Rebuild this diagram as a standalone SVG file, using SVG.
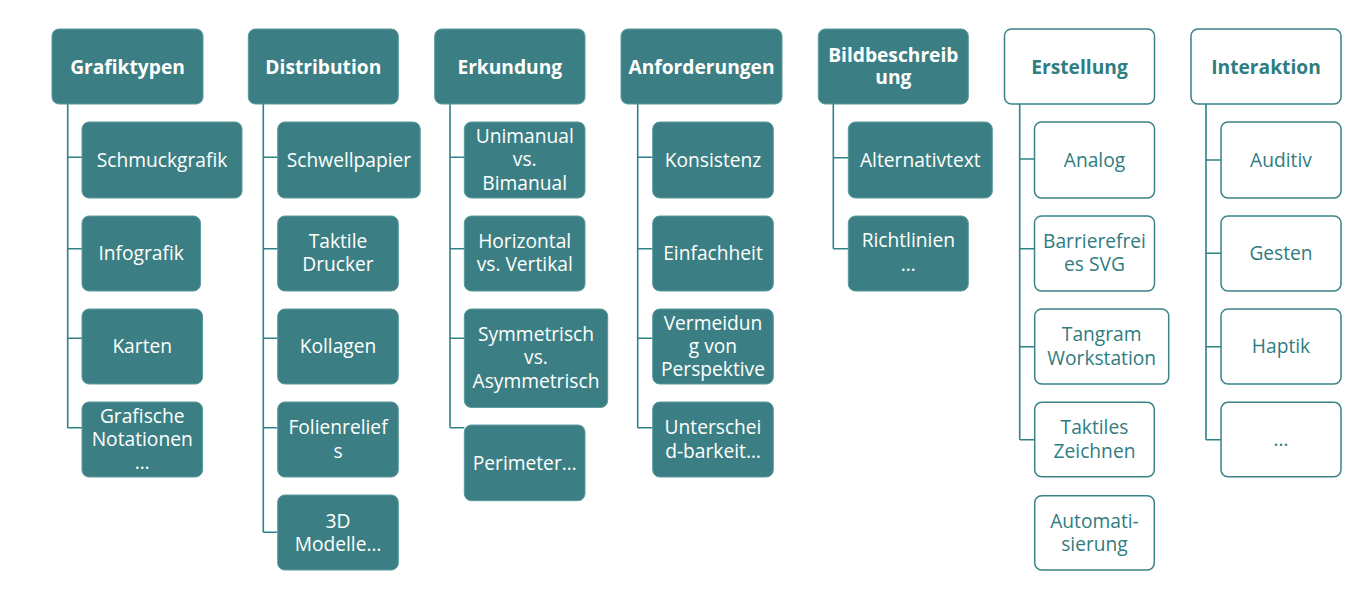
<svg xmlns="http://www.w3.org/2000/svg" width="1358" height="602" viewBox="0 0 1358 602">
<style>
.f{fill:#3b7f84;stroke:#5b9a9e;stroke-width:1}
.o{fill:#ffffff;stroke:#3b8388;stroke-width:1.5}
.hf{font-family:"Open Sans","Liberation Sans",sans-serif;font-weight:bold;font-size:19.2px;fill:#ffffff;text-anchor:middle}
.ho{font-family:"Open Sans","Liberation Sans",sans-serif;font-weight:bold;font-size:19.2px;fill:#2f7c81;text-anchor:middle}
.cf{font-family:"Open Sans","Liberation Sans",sans-serif;font-size:19.2px;fill:#ffffff;text-anchor:middle}
.co{font-family:"Open Sans","Liberation Sans",sans-serif;font-size:19.2px;fill:#2f7c81;text-anchor:middle}
.ln{fill:none;stroke:#2e8186;stroke-width:1.6}
</style>
<g id="connectors">
<path class="ln" d="M67.7,104 V428 M67.7,157.3 H82 M67.7,248.7 H82 M67.7,338.3 H82 M67.7,427.7 H82"/>
<path class="ln" d="M263.3,104 V532.3 M263.3,157.3 H277.7 M263.3,248.7 H277.7 M263.3,338.3 H277.7 M263.3,427.7 H277.7 M263.3,532.3 H277.7"/>
<path class="ln" d="M450,104 V427.7 M450,157.3 H464.3 M450,248.7 H464.3 M450,338.3 H464.3 M450,427.7 H464.3"/>
<path class="ln" d="M637.7,104 V427.7 M637.7,157.3 H652.7 M637.7,248.7 H652.7 M637.7,338.3 H652.7 M637.7,427.7 H652.7"/>
<path class="ln" d="M833.3,104 V248.7 M833.3,157.7 H848.3 M833.3,248.7 H848.3"/>
<path class="ln" d="M1019.7,104 V439.7 M1019.7,159 H1034.5 M1019.7,248.7 H1034.5 M1019.7,346.7 H1034.5 M1019.7,439.7 H1034.5"/>
<path class="ln" d="M1206,104 V439.7 M1206,160 H1221 M1206,253.3 H1221 M1206,346.7 H1221 M1206,439.7 H1221"/>
</g>
<g id="grafiktypen"><rect class="f" x="52" y="29" width="151" height="75" rx="7"/><text class="hf" x="127.5" y="73.8">Grafiktypen</text></g>
<g id="schmuckgrafik"><rect class="f" x="82" y="122" width="160" height="76" rx="7"/><text class="cf" x="162" y="166.8">Schmuckgrafik</text></g>
<g id="infografik"><rect class="f" x="82" y="216" width="118.5" height="75" rx="7"/><text class="cf" x="141.2" y="259.8">Infografik</text></g>
<g id="karten"><rect class="f" x="82" y="309" width="120.5" height="75" rx="7"/><text class="cf" x="142.2" y="352.8">Karten</text></g>
<g id="grafische"><rect class="f" x="82" y="402" width="120.5" height="75" rx="7"/><text class="cf" x="142.2" y="422.7">Grafische<tspan x="142.2" dy="23.3">Notationen</tspan><tspan x="142.2" dy="23.3">…</tspan></text></g>

<g id="distribution"><rect class="f" x="248.3" y="29" width="150" height="75" rx="7"/><text class="hf" x="323.3" y="73.8">Distribution</text></g>
<g id="schwellpapier"><rect class="f" x="277.7" y="122" width="142.5" height="76" rx="7"/><text class="cf" x="349" y="166.8">Schwellpapier</text></g>
<g id="taktile-drucker"><rect class="f" x="277.7" y="216" width="120.6" height="75" rx="7"/><text class="cf" x="338" y="247.9">Taktile<tspan x="338" dy="23.3">Drucker</tspan></text></g>
<g id="kollagen"><rect class="f" x="277.7" y="309" width="120.6" height="75" rx="7"/><text class="cf" x="338" y="352.8">Kollagen</text></g>
<g id="folienreliefs"><rect class="f" x="277.7" y="402" width="120.6" height="75" rx="7"/><text class="cf" x="338" y="434.2">Folienrelief<tspan x="338" dy="23.3">s</tspan></text></g>
<g id="3d-modelle"><rect class="f" x="277.7" y="495" width="120.6" height="75" rx="7"/><text class="cf" x="338" y="527.5">3D<tspan x="338" dy="23.3">Modelle…</tspan></text></g>

<g id="erkundung"><rect class="f" x="434.7" y="29" width="150.3" height="75" rx="7"/><text class="hf" x="509.8" y="73.8">Erkundung</text></g>
<g id="unimanual"><rect class="f" x="464.3" y="122" width="120.7" height="76" rx="7"/><text class="cf" x="524.7" y="142.5">Unimanual<tspan x="524.7" dy="23.5">vs.</tspan><tspan x="524.7" dy="23.5">Bimanual</tspan></text></g>
<g id="horizontal"><rect class="f" x="464.3" y="216" width="120.7" height="75" rx="7"/><text class="cf" x="524.7" y="247.9">Horizontal<tspan x="524.7" dy="23.3">vs. Vertikal</tspan></text></g>
<g id="symmetrisch"><rect class="f" x="464.3" y="309" width="143.4" height="98.5" rx="7"/><text class="cf" x="536" y="340.9">Symmetrisch<tspan x="536" dy="23.5">vs.</tspan><tspan x="536" dy="23.5">Asymmetrisch</tspan></text></g>
<g id="perimeter"><rect class="f" x="464.3" y="425" width="120.7" height="75.7" rx="7"/><text class="cf" x="524.7" y="469.8">Perimeter…</text></g>

<g id="anforderungen"><rect class="f" x="621" y="29" width="161" height="75" rx="7"/><text class="hf" x="701.5" y="73.8">Anforderungen</text></g>
<g id="konsistenz"><rect class="f" x="652.7" y="122" width="120.6" height="76" rx="7"/><text class="cf" x="713" y="166.8">Konsistenz</text></g>
<g id="einfachheit"><rect class="f" x="652.7" y="216" width="120.6" height="75" rx="7"/><text class="cf" x="713" y="259.8">Einfachheit</text></g>
<g id="vermeidung"><rect class="f" x="652.7" y="309" width="120.6" height="75" rx="7"/><text class="cf" x="713" y="329.5">Vermeidun<tspan x="713" dy="23.3">g von</tspan><tspan x="713" dy="23.3">Perspektive</tspan></text></g>
<g id="unterscheidbarkeit"><rect class="f" x="652.7" y="402" width="120.6" height="75" rx="7"/><text class="cf" x="713" y="434.2">Unterschei<tspan x="713" dy="23.3">d-barkeit…</tspan></text></g>

<g id="bildbeschreibung"><rect class="f" x="818.3" y="29" width="150" height="75" rx="7"/><text class="hf" x="893.3" y="61.7">Bildbeschreib<tspan x="893.3" dy="22">ung</tspan></text></g>
<g id="alternativtext"><rect class="f" x="848.3" y="122" width="144" height="76" rx="7"/><text class="cf" x="920.3" y="166.8">Alternativtext</text></g>
<g id="richtlinien"><rect class="f" x="848.3" y="216" width="120" height="75" rx="7"/><text class="cf" x="908.3" y="246.9">Richtlinien<tspan x="908.3" dy="24">…</tspan></text></g>

<g id="erstellung"><rect class="o" x="1004.5" y="29" width="150" height="75" rx="7"/><text class="ho" x="1079.5" y="73.8">Erstellung</text></g>
<g id="analog"><rect class="o" x="1034.5" y="122" width="120" height="76" rx="7"/><text class="co" x="1094.5" y="166.8">Analog</text></g>
<g id="barrierefreies-svg"><rect class="o" x="1034.5" y="216" width="120" height="75" rx="7"/><text class="co" x="1094.5" y="247.9">Barrierefrei<tspan x="1094.5" dy="23.3">es SVG</tspan></text></g>
<g id="tangram"><rect class="o" x="1034.7" y="309" width="134" height="75" rx="7"/><text class="co" x="1101.7" y="341.2">Tangram<tspan x="1101.7" dy="23.3">Workstation</tspan></text></g>
<g id="taktiles-zeichnen"><rect class="o" x="1034.7" y="402.3" width="119.6" height="74.5" rx="7"/><text class="co" x="1094.5" y="434.2">Taktiles<tspan x="1094.5" dy="23.3">Zeichnen</tspan></text></g>
<g id="automatisierung"><rect class="o" x="1034.7" y="495.7" width="119.6" height="74.3" rx="7"/><text class="co" x="1094.5" y="527.7">Automati-<tspan x="1094.5" dy="23.3">sierung</tspan></text></g>

<g id="interaktion"><rect class="o" x="1191" y="29" width="150" height="75" rx="7"/><text class="ho" x="1266" y="73.8">Interaktion</text></g>
<g id="auditiv"><rect class="o" x="1221" y="122" width="120" height="76" rx="7"/><text class="co" x="1281" y="166.8">Auditiv</text></g>
<g id="gesten"><rect class="o" x="1221" y="216" width="120" height="75" rx="7"/><text class="co" x="1281" y="259.8">Gesten</text></g>
<g id="haptik"><rect class="o" x="1221" y="309" width="120" height="75" rx="7"/><text class="co" x="1281" y="352.8">Haptik</text></g>
<g id="more"><rect class="o" x="1221" y="402.3" width="120" height="74.5" rx="7"/><text class="co" x="1281" y="445.8">…</text></g>
</svg>
